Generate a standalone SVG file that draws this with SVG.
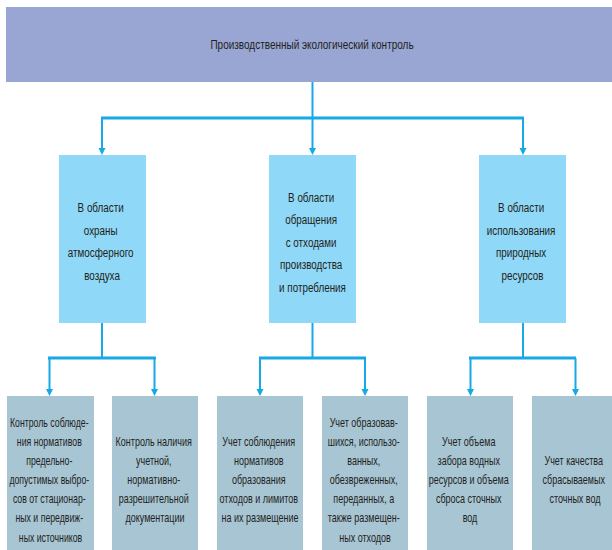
<svg xmlns="http://www.w3.org/2000/svg" width="612" height="550" viewBox="0 0 612 550">
<defs>
<style>
.top{fill:#99A6D3}
.mid{fill:#8FD8F7}
.bot{fill:#A8C5D4}
.t{font-family:"Liberation Sans",Arial,sans-serif;fill:#231F20;text-anchor:middle}
.c{fill:none;stroke:#17A9E6;stroke-width:2}
.bus{stroke-width:3}
</style>
</defs>
<rect width="612" height="550" fill="#ffffff"/>

<g id="connectors">
<line class="c" x1="312.5" y1="82" x2="312.5" y2="118"/>
<line class="c bus" x1="101" y1="118" x2="524" y2="118"/>
<path class="c" d="M102,118 V148"/>
<path class="c" d="M312.5,118 V148"/>
<path class="c" d="M523,118 V148"/>
<path d="M98.5,148 L105.5,148 L102,155 Z" fill="#17A9E6"/>
<path d="M309,148 L316,148 L312.5,155 Z" fill="#17A9E6"/>
<path d="M519.5,148 L526.5,148 L523,155 Z" fill="#17A9E6"/>

<line class="c" x1="102" y1="323" x2="102" y2="358"/>
<line class="c" x1="312.5" y1="323" x2="312.5" y2="358"/>
<line class="c" x1="523" y1="323" x2="523" y2="358"/>
<line class="c bus" x1="48" y1="358" x2="156" y2="358"/>
<line class="c bus" x1="259" y1="358" x2="366" y2="358"/>
<line class="c bus" x1="469" y1="358" x2="576" y2="358"/>
<path class="c" d="M49.5,358 V389 M154.5,358 V389 M260,358 V389 M365,358 V389 M470.5,358 V389 M575.5,358 V389"/>
<path fill="#17A9E6" d="M46,389 h7 l-3.5,7 Z M151,389 h7 l-3.5,7 Z M256.5,389 h7 l-3.5,7 Z M361.5,389 h7 l-3.5,7 Z M467,389 h7 l-3.5,7 Z M572,389 h7 l-3.5,7 Z"/>
</g>

<g id="root">
<rect class="top" x="6" y="7" width="610" height="75"/>
<g transform="translate(312,0) scale(0.74,1)"><text class="t" font-size="13.5" x="0" y="49.5">Производственный экологический контроль</text></g>
</g>

<g id="air">
<rect class="mid" x="59" y="155" width="87" height="168"/>
<g transform="translate(102,0) scale(0.73,1)"><text class="t" font-size="13.5">
<tspan x="0" y="212">В области</tspan>
<tspan x="0" y="234.7">охраны</tspan>
<tspan x="0" y="257.4">атмосферного</tspan>
<tspan x="0" y="280">воздуха</tspan>
</text></g>
</g>

<g id="waste">
<rect class="mid" x="269" y="155" width="87" height="168"/>
<g transform="translate(312.5,0) scale(0.73,1)"><text class="t" font-size="13.5">
<tspan x="0" y="202">В области</tspan>
<tspan x="0" y="224.5">обращения</tspan>
<tspan x="0" y="247">с отходами</tspan>
<tspan x="0" y="269.5">производства</tspan>
<tspan x="0" y="292">и потребления</tspan>
</text></g>
</g>

<g id="resources">
<rect class="mid" x="479" y="155" width="87" height="168"/>
<g transform="translate(522.5,0) scale(0.73,1)"><text class="t" font-size="13.5">
<tspan x="0" y="212">В области</tspan>
<tspan x="0" y="234.7">использования</tspan>
<tspan x="0" y="257.4">природных</tspan>
<tspan x="0" y="280">ресурсов</tspan>
</text></g>
</g>

<g id="a1">
<rect class="bot" x="7" y="396" width="87" height="156"/>
<g transform="translate(50.5,0) scale(0.7,1)"><text class="t" font-size="12.5">
<tspan x="0" y="427">Контроль соблюде-</tspan>
<tspan x="0" y="446.1">ния нормативов</tspan>
<tspan x="0" y="465.2">предельно-</tspan>
<tspan x="0" y="484.3">допустимых выбро-</tspan>
<tspan x="0" y="503.4">сов от стационар-</tspan>
<tspan x="0" y="522.5">ных и передвиж-</tspan>
<tspan x="0" y="541.6">ных источников</tspan>
</text></g>
</g>

<g id="a2">
<rect class="bot" x="112" y="396" width="86" height="156"/>
<g transform="translate(155,0) scale(0.72,1)"><text class="t" font-size="12.5">
<tspan x="0" y="446.1">Контроль наличия</tspan>
<tspan x="0" y="465.2">учетной,</tspan>
<tspan x="0" y="484.3">нормативно-</tspan>
<tspan x="0" y="503.4">разрешительной</tspan>
<tspan x="0" y="522.5">документации</tspan>
</text></g>
</g>

<g id="w1">
<rect class="bot" x="217" y="396" width="86" height="156"/>
<g transform="translate(260,0) scale(0.72,1)"><text class="t" font-size="12.5">
<tspan x="0" y="446.1">Учет соблюдения</tspan>
<tspan x="0" y="465.2">нормативов</tspan>
<tspan x="0" y="484.3">образования</tspan>
<tspan x="0" y="503.4">отходов и лимитов</tspan>
<tspan x="0" y="522.5">на их размещение</tspan>
</text></g>
</g>

<g id="w2">
<rect class="bot" x="322" y="396" width="86" height="156"/>
<g transform="translate(365,0) scale(0.72,1)"><text class="t" font-size="12.5">
<tspan x="0" y="427">Учет образовав-</tspan>
<tspan x="0" y="446.1">шихся, использо-</tspan>
<tspan x="0" y="465.2">ванных,</tspan>
<tspan x="0" y="484.3">обезвреженных,</tspan>
<tspan x="0" y="503.4">переданных, а</tspan>
<tspan x="0" y="522.5">также размещен-</tspan>
<tspan x="0" y="541.6">ных отходов</tspan>
</text></g>
</g>

<g id="r1">
<rect class="bot" x="427" y="396" width="86" height="156"/>
<g transform="translate(470,0) scale(0.72,1)"><text class="t" font-size="12.5">
<tspan x="0" y="446.1">Учет объема</tspan>
<tspan x="0" y="465.2">забора водных</tspan>
<tspan x="0" y="484.3">ресурсов и объема</tspan>
<tspan x="0" y="503.4">сброса сточных</tspan>
<tspan x="0" y="522.5">вод</tspan>
</text></g>
</g>

<g id="r2">
<rect class="bot" x="532" y="396" width="86" height="156"/>
<g transform="translate(575,0) scale(0.72,1)"><text class="t" font-size="12.5">
<tspan x="0" y="465.2">Учет качества</tspan>
<tspan x="0" y="484.3">сбрасываемых</tspan>
<tspan x="0" y="503.4">сточных вод</tspan>
</text></g>
</g>
</svg>
